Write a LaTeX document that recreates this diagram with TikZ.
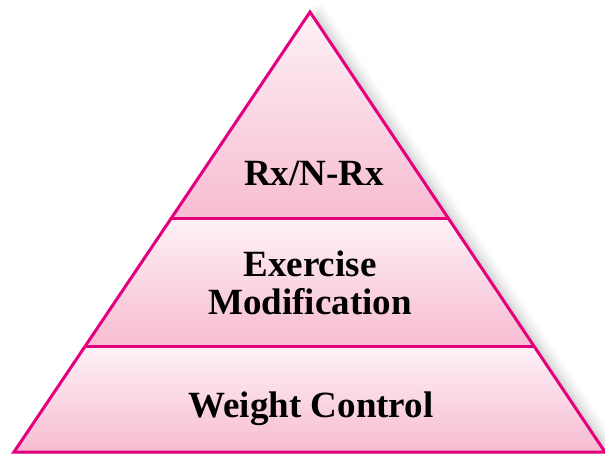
\documentclass[tikz,border=0pt]{standalone}
\usepackage{fontspec}
\setmainfont{Liberation Serif}
\usetikzlibrary{shadows.blur}
\definecolor{edge}{HTML}{E4007C}
\definecolor{pinktop}{HTML}{FDF1F6}
\definecolor{pinkbot}{HTML}{F7BCD2}
\tikzset{
  band/.style={top color=pinktop, bottom color=pinkbot},
  outline/.style={draw=edge, line width=3pt, line join=miter},
  divider/.style={draw=edge, line width=3pt},
  label/.style={font=\bfseries\fontsize{37}{38}\selectfont, align=center, text=black, inner sep=0pt}
}
\begin{document}
\begin{tikzpicture}[x=1pt, y=-1pt]
\useasboundingbox (0,0) rectangle (605,454);
% corners
\coordinate (A) at (310,12);
\coordinate (L) at (14,452);
\coordinate (R) at (605,452);
\coordinate (L1) at ($(A)!0.4682!(L)$);
\coordinate (R1) at ($(A)!0.4682!(R)$);
\coordinate (L2) at ($(A)!0.7591!(L)$);
\coordinate (R2) at ($(A)!0.7591!(R)$);
% shadow
\fill[white, blur shadow={shadow xshift=8pt, shadow yshift=-2pt, shadow opacity=22, shadow blur radius=10pt}] (A) -- (R) -- (L) -- cycle;
% bands
\shade[band] (A) -- (R1) -- (L1) -- cycle;
\shade[band] (L1) -- (R1) -- (R2) -- (L2) -- cycle;
\shade[band] (L2) -- (R2) -- (R) -- (L) -- cycle;
% outlines
\draw[divider] (L1) -- (R1);
\draw[divider] (L2) -- (R2);
\draw[outline] (A) -- (R) -- (L) -- cycle;
% labels
\node[label, anchor=base] (t1) at (314,186) {Rx/N-Rx};
\node[label] (t2) at (310,283) {Exercise\\Modification};
\node[label, anchor=base] (t3) at (311,417) {Weight Control};
\end{tikzpicture}
\end{document}
